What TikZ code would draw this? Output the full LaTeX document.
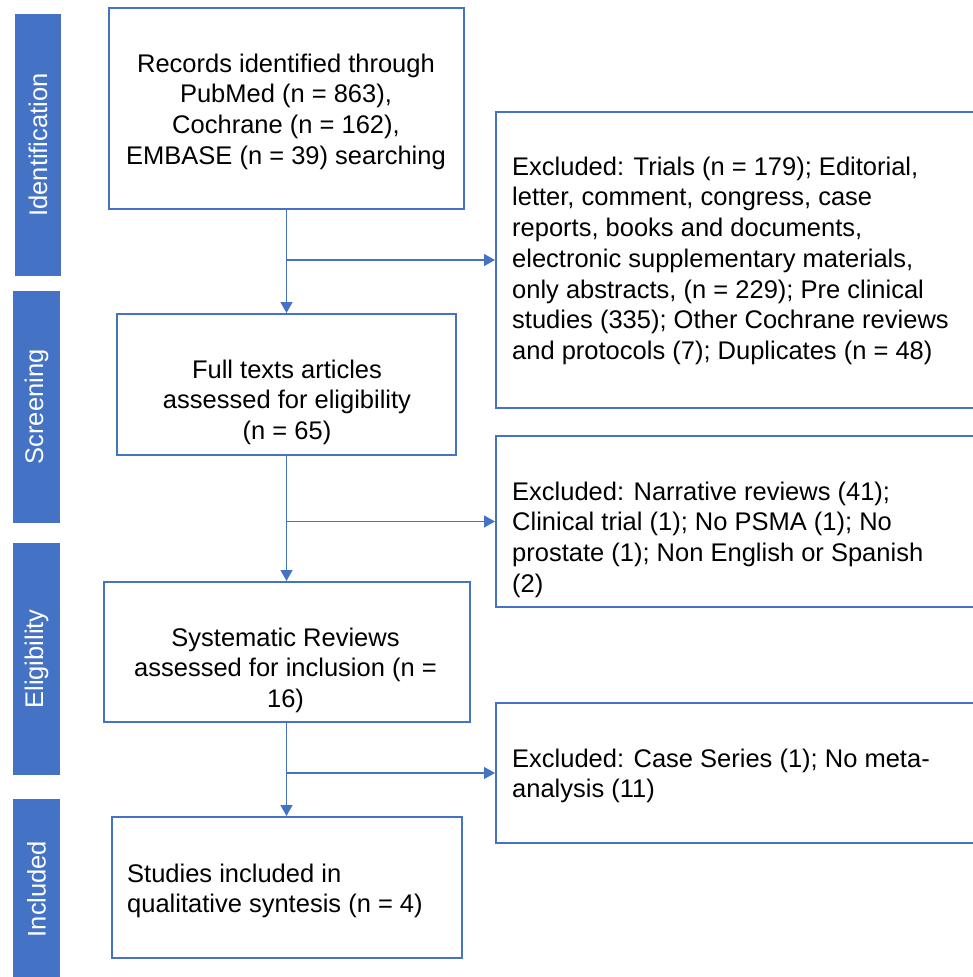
\documentclass[tikz,border=0pt]{standalone}
\usepackage{fontspec}
\setmainfont{Liberation Sans}
\usetikzlibrary{arrows.meta}
\definecolor{pblue}{HTML}{4472C4}
\newcommand{\mystrut}{\rule{0pt}{20pt}}
\begin{document}
\begin{tikzpicture}[x=1pt,y=-1pt,
  bar/.style={fill=pblue, draw=none, text=white, rotate=90, inner sep=0, font=\fontsize{25.5}{30.7}\selectfont},
  box/.style={draw=pblue, line width=2pt, inner sep=0},
  txt/.style={inner sep=0, font=\fontsize{25.5}{30.7}\selectfont},
  conn/.style={draw=pblue, line width=1.3pt, -{Triangle[length=11pt,width=12pt]}}]
\useasboundingbox (0,0) rectangle (972,977);
% phase bars
\node[bar, minimum width=262pt, minimum height=46pt] (idbar) at (38,145) {Identification};
\node[bar, minimum width=232pt, minimum height=47pt] (scrbar) at (36.5,407) {Screening};
\node[bar, minimum width=232pt, minimum height=47pt] (elibar) at (36.5,659) {Eligibility};
\node[bar, minimum width=180pt, minimum height=47pt] (incbar) at (36.5,889) {Included};
% boxes
\node[box, minimum width=355pt, minimum height=201pt] (rec) at (286.5,108.5) {};
\node[box, minimum width=339pt, minimum height=141pt] (full) at (286.5,384.5) {};
\node[box, minimum width=366pt, minimum height=140pt] (sys) at (286.5,652) {};
\node[box, minimum width=350pt, minimum height=141pt] (stu) at (286.5,887.5) {};
\node[box, minimum width=478pt, minimum height=296pt] (ex1) at (735,260) {};
\node[box, minimum width=478pt, minimum height=171pt] (ex2) at (735,521.5) {};
\node[box, minimum width=478pt, minimum height=140pt] (ex3) at (735,773) {};
% texts
\node[txt, anchor=north, align=center] (rect) at (286,52) {\mystrut Records identified through\\PubMed (n = 863),\\Cochrane (n = 162),\\EMBASE (n = 39) searching};
\node[txt, anchor=north, align=center] (fullt) at (287,358) {\mystrut Full texts articles\\assessed for eligibility\\(n = 65)};
\node[txt, anchor=north, align=center] (syst) at (285.5,626) {\mystrut Systematic Reviews\\assessed for inclusion (n =\\16)};
\node[txt, anchor=north west, align=left] (stut) at (127,862) {\mystrut Studies included in\\qualitative syntesis (n = 4)};
\node[txt, anchor=north west, align=left] (ex1t) at (512,155) {\mystrut Excluded: Trials (n = 179); Editorial,\\letter, comment, congress, case\\reports, books and documents,\\electronic supplementary materials,\\only abstracts, (n = 229); Pre clinical\\studies (335); Other Cochrane reviews\\and protocols (7); Duplicates (n = 48)};
\node[txt, anchor=north west, align=left] (ex2t) at (512,480) {\mystrut Excluded: Narrative reviews (41);\\Clinical trial (1); No PSMA (1); No\\prostate (1); Non English or Spanish\\(2)};
\node[txt, anchor=north west, align=left] (ex3t) at (512,747) {\mystrut Excluded: Case Series (1); No meta-\\analysis (11)};
% connectors
\draw[conn] (rec.south) -- (full.north);
\draw[conn] (full.south) -- (sys.north);
\draw[conn] (sys.south) -- (stu.north);
\draw[conn] (rec.south |- ex1.west) -- (ex1.west);
\draw[conn] (full.south |- ex2.west) -- (ex2.west);
\draw[conn] (sys.south |- ex3.west) -- (ex3.west);
\end{tikzpicture}
\end{document}
